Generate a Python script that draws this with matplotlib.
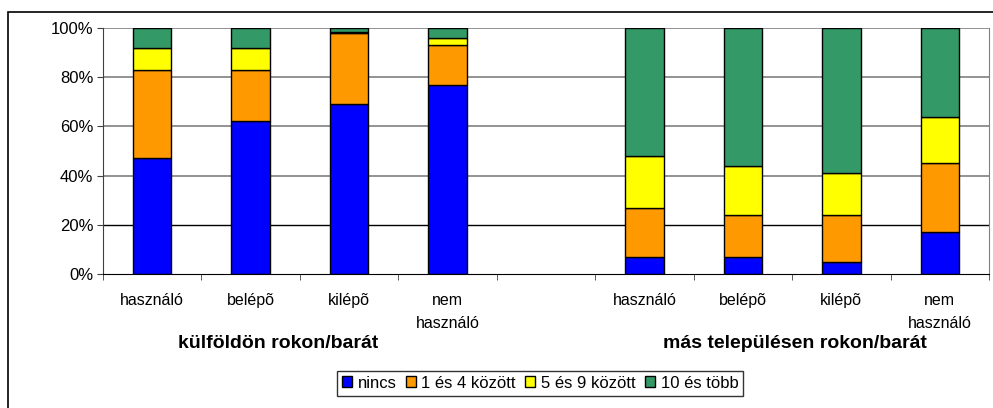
import matplotlib.pyplot as plt
from matplotlib.patches import Rectangle
import numpy as np

plt.rcParams['font.family'] = ['Liberation Sans', 'DejaVu Sans']

# categories (empty slot in the middle separates the two groups)
labels = ["használó", "belépõ", "kilépõ", "nem\nhasználó", "",
          "használó", "belépõ", "kilépõ", "nem\nhasználó"]
series = ["nincs", "1 és 4 között", "5 és 9 között", "10 és több"]
colors = ["#0000FF", "#FF9900", "#FFFF00", "#339966"]

nincs = [47, 62, 69, 77, 0, 7, 7, 5, 17]
egy_negy = [36, 21, 29, 16, 0, 20, 17, 19, 28]
ot_kilenc = [9, 9, 0.3, 3, 0, 21, 20, 17, 19]
tiz_tobb = [8, 8, 1.7, 4, 0, 52, 56, 59, 36]
groups = ["külföldön rokon/barát", "más településen rokon/barát"]

data = np.array([nincs, egy_negy, ot_kilenc, tiz_tobb], dtype=float)
x = np.arange(len(labels))
show = np.array([lab != "" for lab in labels])

fig = plt.figure(figsize=(9.93, 4.08), dpi=100)
W, H = 993, 408
ax = fig.add_axes([103 / W, 1 - 274 / H, 886 / W, 246 / H])

# grid lines
for v in [40, 60, 80, 100]:
    ax.axhline(v, color="#808080", lw=1.2, zorder=0)
ax.axhline(20, color="black", lw=1.0, zorder=0)

bottom = np.zeros(len(labels))
for vals, name, col in zip(data, series, colors):
    ax.bar(x[show], vals[show], width=0.39, bottom=bottom[show], color=col,
           edgecolor="black", linewidth=1.0, label=name, zorder=2)
    bottom += vals

ax.set_xlim(-0.5, len(labels) - 0.5)
ax.set_ylim(0, 100)
ax.set_yticks([0, 20, 40, 60, 80, 100])
ax.set_yticklabels([f"{v}%" for v in [0, 20, 40, 60, 80, 100]], fontsize=12)
ax.set_xticks(x)
ax.set_xticklabels(labels, fontsize=11.5, linespacing=1.65)
ax.tick_params(axis="x", length=0, pad=14)
ax.set_xticks(np.arange(len(labels) + 1) - 0.5, minor=True)
ax.tick_params(axis="x", which="minor", length=4, color="#404040")
ax.tick_params(axis="y", length=4, color="#404040", pad=3)

ax.spines["top"].set_visible(False)
ax.spines["right"].set_color("#808080")
ax.spines["left"].set_color("#404040")
ax.spines["bottom"].set_color("black")

fig.text(278 / W, 1 - 344 / H, groups[0], ha="center", va="center",
         fontsize=14, fontweight="bold")
fig.text(795 / W, 1 - 344 / H, groups[1], ha="center", va="center",
         fontsize=14, fontweight="bold")

leg = fig.legend(loc="center", bbox_to_anchor=(540 / W, 1 - 383 / H), ncol=4,
                 fontsize=12, frameon=True, fancybox=False, edgecolor="black",
                 handlelength=0.6, handleheight=0.6, handletextpad=0.35,
                 columnspacing=0.55, borderpad=0.3)
leg.get_frame().set_linewidth(1.0)

# outer chart border
fig.patches.append(Rectangle((8 / W, -0.05), 1.2, 1 - 12 / H + 0.05,
                             transform=fig.transFigure, fill=False,
                             edgecolor="black", linewidth=1.2))

fig.savefig("out.png", dpi=100)
